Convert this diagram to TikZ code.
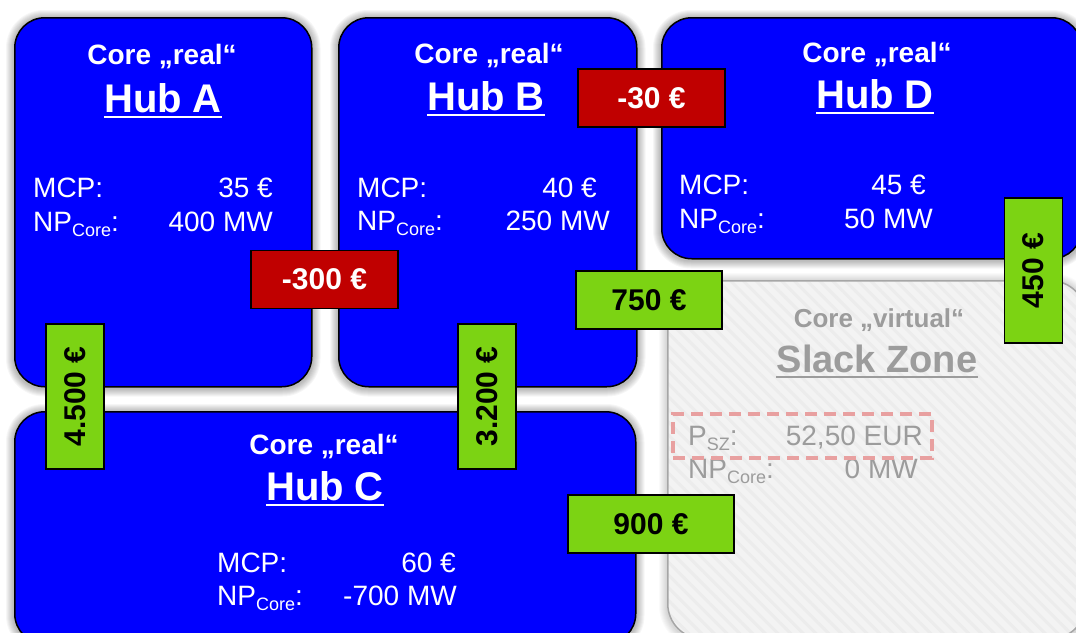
\documentclass[tikz,border=0pt]{standalone}
\usepackage{fontspec}
\setmainfont{Liberation Sans}
\usetikzlibrary{patterns.meta, backgrounds}
\definecolor{hubblue}{HTML}{0000FF}
\definecolor{flowred}{HTML}{C00000}
\definecolor{flowgreen}{HTML}{7CD313}
\definecolor{slackfill}{HTML}{F3F3F3}
\definecolor{slackline}{HTML}{A6A6A6}
\definecolor{slacktext}{HTML}{9C9C9C}
\definecolor{stripecol}{HTML}{ECECEC}
\definecolor{dashred}{HTML}{E8A0A0}
\newcommand\fs[1]{\fontsize{#1}{#1}\selectfont}
\newcommand\npcore{NP\raisebox{-5pt}{\fs{18}Core}:}
\newcommand\psz{P\raisebox{-5pt}{\fs{18}SZ}:}
\begin{document}
\begin{tikzpicture}[x=1pt, y=-1pt,
  hubbox/.style={draw=black, line width=1.5pt, fill=hubblue, rounded corners=30pt,
    anchor=north west, inner sep=0pt},
  slackbox/.style={preaction={fill=slackfill},
    preaction={pattern={Lines[angle=-45, distance=9pt, line width=3pt]}, pattern color=stripecol},
    draw=slackline, line width=1.5pt, rounded corners=35pt,
    anchor=north west, inner sep=0pt},
  txt/.style={text=white, inner sep=0pt},
  gtxt/.style={text=slacktext, inner sep=0pt},
  title/.style={font=\fs{28}\bfseries, anchor=base},
  hubname/.style={font=\fs{40}\bfseries, anchor=base},
  lefttxt/.style={font=\fs{28}, anchor=base west},
  righttxt/.style={font=\fs{28}, anchor=base east},
  redlab/.style={draw=black, line width=1.8pt, fill=flowred, text=white,
    font=\fs{30}\bfseries, inner sep=0pt, minimum height=58pt},
  greenlab/.style={draw=black, line width=1.8pt, fill=flowgreen, text=black,
    font=\fs{30}\bfseries, inner sep=0pt, minimum height=58pt}
]
\useasboundingbox (0,0) rectangle (1076,632);
\clip (0,0) rectangle (1076,632);

% hubs
\node[hubbox, minimum width=297pt, minimum height=369pt] (hubA) at (14,17) {};
\node[hubbox, minimum width=298pt, minimum height=369pt] (hubB) at (338,17) {};
\node[hubbox, minimum width=420pt, minimum height=241pt] (hubD) at (661,17) {};
\node[slackbox, minimum width=418pt, minimum height=358pt] (slack) at (667,280) {};
\node[hubbox, minimum width=621pt, minimum height=232pt] (hubC) at (14,411) {};

% soft shadows and white page, behind everything
\begin{scope}[on background layer]
  \fill[white] (0,0) rectangle (1076,632);
  \foreach \n/\r/\op in {hubA/30/0.035, hubB/30/0.035, hubD/30/0.035, hubC/30/0.035, slack/35/0.02} {
    \foreach \i in {1,...,8} {
      \pgfmathsetmacro\rr{\r+\i}
      \fill[black, opacity=\op, rounded corners=\rr pt]
        ([shift={(-\i pt,\i pt-1pt)}]\n.north west) rectangle ([shift={(\i pt,-\i pt-1pt)}]\n.south east);
    }
  }
\end{scope}

% Hub A
\node[txt, title] (a1) at (162,64) {Core „real“};
\node[txt, hubname] (a2) at (163,112) {Hub A};
\draw[white, line width=2pt] ([yshift=-5pt]a2.base west) -- ([yshift=-5pt]a2.base east);
\node[txt, lefttxt] (a3) at (33,197) {MCP:};
\node[txt, righttxt] (a4) at (273,197) {35 €};
\node[txt, lefttxt] (a5) at (33,231) {\npcore};
\node[txt, righttxt] (a6) at (273,231) {400 MW};

% Hub B
\node[txt, title] (b1) at (489,63) {Core „real“};
\node[txt, hubname] (b2) at (486,110) {Hub B};
\draw[white, line width=2pt] ([yshift=-5pt]b2.base west) -- ([yshift=-5pt]b2.base east);
\node[txt, lefttxt] (b3) at (357,197) {MCP:};
\node[txt, righttxt] (b4) at (597,197) {40 €};
\node[txt, lefttxt] (b5) at (357,230) {\npcore};
\node[txt, righttxt] (b6) at (610,230) {250 MW};

% Hub D
\node[txt, title] (d1) at (877,62) {Core „real“};
\node[txt, hubname] (d2) at (875,108) {Hub D};
\draw[white, line width=2pt] ([yshift=-5pt]d2.base west) -- ([yshift=-5pt]d2.base east);
\node[txt, lefttxt] (d3) at (679,194) {MCP:};
\node[txt, righttxt] (d4) at (926,194) {45 €};
\node[txt, lefttxt] (d5) at (679,228) {\npcore};
\node[txt, righttxt] (d6) at (933,228) {50 MW};

% Hub C
\node[txt, title] (c1) at (324,454) {Core „real“};
\node[txt, hubname] (c2) at (325,500) {Hub C};
\draw[white, line width=2pt] ([yshift=-5pt]c2.base west) -- ([yshift=-5pt]c2.base east);
\node[txt, lefttxt] (c3) at (217,572) {MCP:};
\node[txt, righttxt] (c4) at (456,572) {60 €};
\node[txt, lefttxt] (c5) at (217,605) {\npcore};
\node[txt, righttxt] (c6) at (457,605) {-700 MW};

% Slack zone
\node[gtxt, font=\fs{26}\bfseries, anchor=base] (s1) at (879,327) {Core „virtual“};
\node[gtxt, font=\fs{38}\bfseries, anchor=base] (s2) at (877,372) {Slack Zone};
\draw[slacktext, line width=2pt] ([yshift=-5pt]s2.base west) -- ([yshift=-5pt]s2.base east);
\node[gtxt, lefttxt] (s3) at (688,445) {\psz};
\node[gtxt, righttxt] (s4) at (923,445) {52,50 EUR};
\node[gtxt, lefttxt] (s5) at (688,478) {\npcore};
\node[gtxt, righttxt] (s6) at (918,478) {0 MW};
\node[draw=dashred, line width=3.5pt, dash pattern=on 12pt off 7pt,
  minimum width=259pt, minimum height=44pt, inner sep=0pt] (pbox) at (802.5,436) {};

% flow labels
\node[redlab, minimum width=147pt] (lab300) at (324.5,279.5) {-300 €};
\node[redlab, minimum width=147pt] (lab30) at (651.5,98) {-30 €};
\node[greenlab, minimum width=146pt] (lab750) at (649,300) {750 €};
\node[greenlab, minimum width=166pt] (lab900) at (651,524) {900 €};
\node[greenlab, rotate=90, minimum width=145pt] (lab4500) at (75,396.5) {4.500 €};
\node[greenlab, rotate=90, minimum width=145pt] (lab3200) at (487,396.5) {3.200 €};
\node[greenlab, rotate=90, minimum width=145pt] (lab450) at (1033.5,270.5) {450 €};
\end{tikzpicture}
\end{document}
